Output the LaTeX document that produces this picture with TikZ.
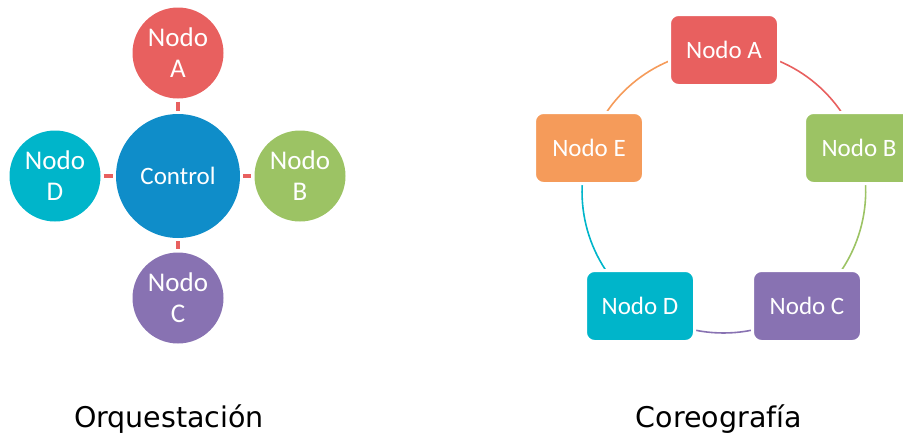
\documentclass[tikz,border=0pt]{standalone}
\usepackage{fontspec}
\setmainfont{Carlito}
\newfontfamily\titfont{DejaVu Sans}
\usepackage{tikz}
\usetikzlibrary{backgrounds}
\definecolor{rojo}{HTML}{E8605F}
\definecolor{azul}{HTML}{0F8DC9}
\definecolor{verde}{HTML}{9CC364}
\definecolor{morado}{HTML}{8872B2}
\definecolor{cian}{HTML}{00B5CA}
\definecolor{naranja}{HTML}{F59B5A}
\tikzstyle{circ}=[circle,text=white,minimum size=91pt,inner sep=0pt,align=center,font=\fontsize{27}{31}\selectfont]
\tikzstyle{ctrl}=[circle,fill=azul,text=white,minimum size=124pt,inner sep=0pt,font=\fontsize{25}{30}\selectfont]
\tikzstyle{caja}=[rectangle,rounded corners=9pt,draw=white,line width=3pt,minimum width=109pt,minimum height=71pt,inner sep=0pt,text=white,font=\fontsize{25}{30}\selectfont]
\tikzstyle{enl}=[draw=rojo,line width=3.5pt,shorten <=3pt,shorten >=3pt]
\tikzstyle{arco}=[line width=1.6pt]
\tikzstyle{curva}=[bend left=36,looseness=0.94]
\tikzstyle{titulo}=[anchor=base,font=\titfont\fontsize{28.5}{34}\selectfont]

\begin{document}
\begin{tikzpicture}[x=1pt,y=-1pt]
\useasboundingbox (0,0) rectangle (903,434);
\clip (0,0) rectangle (903,434);
\begin{scope}[xshift=0pt]
  %Nodes
  \node[ctrl]             (Ctrl) at (178,176) {Control};
  \node[circ,fill=rojo]   (A)    at (178,53)  {Nodo\\A};
  \node[circ,fill=verde]  (B)    at (300,176) {Nodo\\B};
  \node[circ,fill=morado] (C)    at (178,298) {Nodo\\C};
  \node[circ,fill=cian]   (D)    at (55,176)  {Nodo\\D};
  \node[titulo] (Orq) at (169,427) {Orquestación};
  %Lines
  \draw[enl] (A) -- (Ctrl);
  \draw[enl] (Ctrl) -- (B);
  \draw[enl] (Ctrl) -- (C);
  \draw[enl] (D) -- (Ctrl);
\end{scope}
\begin{scope}[xshift=724pt]
  %Nodes
  \node[caja,fill=rojo]    (NA) at (0,50)    {Nodo A};
  \node[caja,fill=verde]   (NB) at (135,148) {Nodo B};
  \node[caja,fill=morado]  (NC) at (83,306)  {Nodo C};
  \node[caja,fill=cian]    (ND) at (-84,306) {Nodo D};
  \node[caja,fill=naranja] (NE) at (-135,148) {Nodo E};
  \node[titulo] (Cor) at (-5,427) {Coreografía};
  %Lines
  \begin{pgfonlayer}{background}
  \draw[arco,draw=rojo]    (NA.center) to[curva] (NB.center);
  \draw[arco,draw=verde]   (NB.center) to[curva] (NC.center);
  \draw[arco,draw=morado]  (NC.center) to[curva] (ND.center);
  \draw[arco,draw=cian]    (ND.center) to[curva] (NE.center);
  \draw[arco,draw=naranja] (NE.center) to[curva] (NA.center);
  \end{pgfonlayer}
\end{scope}
\end{tikzpicture}
\end{document}
